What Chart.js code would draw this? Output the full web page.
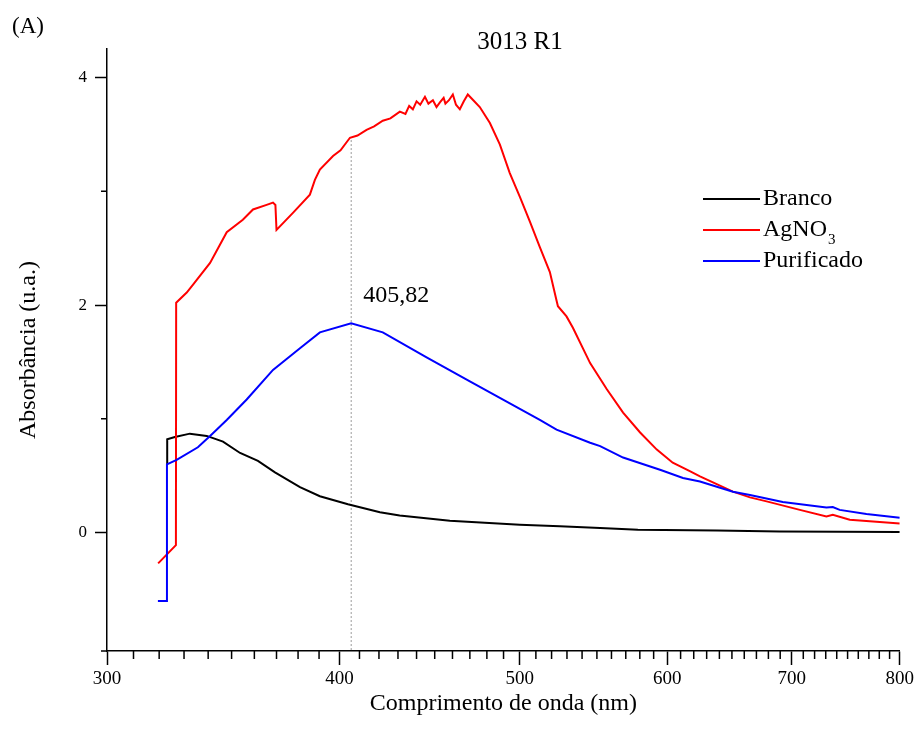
<!DOCTYPE html>
<html>
<head>
<meta charset="utf-8">
<script src="https://cdn.jsdelivr.net/npm/chart.js@4.4.1/dist/chart.umd.min.js"></script>
<style>
  body { margin: 0; background: #fff; }
  canvas { display: block; }
</style>
</head>
<body>
<canvas id="absChart" width="917" height="731"></canvas>
<script>
// wavelength (nm) / absorbance
const brancoNm  = [323.2, 323.2, 326.3, 332.4, 339.4, 346.3, 353.7, 361.6, 369.3, 380.9, 390.4, 404.2, 420.5, 430.9, 458.5, 500, 525.3, 552.2, 578.6, 638, 689.6, 800];
const brancoAbs = [0.60, 0.82, 0.84, 0.87, 0.85, 0.80, 0.70, 0.63, 0.53, 0.40, 0.32, 0.25, 0.18, 0.15, 0.105, 0.07, 0.057, 0.041, 0.026, 0.018, 0.011, 0.006];

const agNm  = [319.6, 326.7, 326.8, 331.1, 333.7, 340.8, 347.9, 354.9, 359.4, 365.5, 368.4, 369.5, 370.0, 377.6, 385.6, 388.0, 390.4, 396.8, 400.5, 405.2, 409.0, 413.6, 417.5, 422.0, 426.0, 431.0, 434.0, 436, 438.0, 440.0, 442.0, 444.6, 446.5, 449.0, 451.0, 452.9, 455.0, 456, 458.0, 460.2, 462.0, 464.2, 466.5, 468.8, 472.0, 475.8, 481.8, 487.8, 493.8, 500.0, 506.3, 512.5, 518.9, 523.2, 524.1, 529.7, 533.9, 545.4, 556.8, 568.1, 580.2, 592.3, 604.1, 617.0, 624.8, 650.8, 664.7, 678.5, 707, 730.6, 736.4, 752.0, 800];
const agAbs = [-0.27, -0.11, 2.02, 2.11, 2.18, 2.37, 2.64, 2.75, 2.84, 2.88, 2.90, 2.88, 2.66, 2.81, 2.97, 3.10, 3.19, 3.31, 3.36, 3.47, 3.49, 3.54, 3.57, 3.62, 3.64, 3.70, 3.68, 3.75, 3.72, 3.79, 3.76, 3.83, 3.77, 3.80, 3.74, 3.78, 3.82, 3.77, 3.80, 3.85, 3.76, 3.72, 3.79, 3.85, 3.80, 3.74, 3.60, 3.41, 3.16, 2.95, 2.73, 2.51, 2.29, 2.04, 1.99, 1.90, 1.80, 1.49, 1.26, 1.055, 0.88, 0.73, 0.615, 0.54, 0.495, 0.36, 0.31, 0.275, 0.20, 0.143, 0.158, 0.114, 0.08];

const purNm  = [319.5, 323.0, 323.1, 327.0, 335.7, 340.8, 347.9, 356.6, 368.4, 380.9, 390.4, 405.8, 422.0, 445.5, 470.0, 512.5, 523.2, 545.4, 552.2, 568.1, 595.2, 611.8, 624.8, 650.8, 664.7, 692.2, 730.6, 736.4, 742.7, 767.7, 800];
const purAbs = [-0.60, -0.60, 0.60, 0.64, 0.75, 0.85, 0.99, 1.17, 1.43, 1.62, 1.76, 1.84, 1.76, 1.54, 1.33, 0.99, 0.905, 0.79, 0.76, 0.66, 0.55, 0.48, 0.45, 0.36, 0.33, 0.27, 0.22, 0.225, 0.20, 0.164, 0.13];

const xTicks = [300, 400, 500, 600, 700, 800];
const yTicks = [0, 2, 4];
const yMinor = [1, 3];
const peakNm = 405.82;
const peakLabel = '405,82';

const serif = '"Liberation Serif", "DejaVu Serif", serif';

function toPoints(xs, ys) {
    return xs.map((x, i) => ({ x: x, y: ys[i] }));
}

const extras = {
    id: 'extras',
    beforeDatasetsDraw(chart) {
        const { ctx, scales: { x, y } } = chart;
        // dotted marker at the plasmon peak
        const px = x.getPixelForValue(peakNm);
        ctx.save();
        ctx.strokeStyle = '#9a9a9a';
        ctx.lineWidth = 1;
        ctx.setLineDash([2, 2]);
        ctx.beginPath();
        ctx.moveTo(px, y.getPixelForValue(3.45));
        ctx.lineTo(px, y.bottom);
        ctx.stroke();
        ctx.restore();
    },
    afterDraw(chart) {
        const { ctx, scales: { x, y } } = chart;
        ctx.save();
        ctx.strokeStyle = '#000';
        ctx.lineWidth = 1.5;
        // minor ticks
        ctx.beginPath();
        for (let v = 310; v < 800; v += 10) {
            if (v % 100 === 0) continue;
            const px = x.getPixelForValue(v);
            ctx.moveTo(px, y.bottom);
            ctx.lineTo(px, y.bottom + 8);
        }
        yMinor.forEach(v => {
            const py = y.getPixelForValue(v);
            ctx.moveTo(x.left, py);
            ctx.lineTo(x.left - 6, py);
        });
        // small stub of the x axis left of the y axis
        ctx.moveTo(x.left - 6, y.bottom);
        ctx.lineTo(x.left, y.bottom);
        ctx.stroke();

        ctx.fillStyle = '#000';
        ctx.textBaseline = 'middle';
        ctx.font = '23px ' + serif;
        ctx.textAlign = 'left';
        ctx.fillText('(A)', 12, 27);

        ctx.font = '25px ' + serif;
        ctx.textAlign = 'center';
        ctx.fillText('3013 R1', 520, 42);

        ctx.font = '24px ' + serif;
        ctx.textAlign = 'left';
        ctx.fillText(peakLabel, x.getPixelForValue(peakNm) + 12, y.getPixelForValue(2.08));

        // legend
        const items = [
            { label: 'Branco', color: '#000000' },
            { label: 'AgNO', sub: '3', color: '#ff0000' },
            { label: 'Purificado', color: '#0000ff' }
        ];
        const lx = 703, lw = 57, ly0 = 199, dy = 31;
        items.forEach((it, i) => {
            const ly = ly0 + i * dy;
            ctx.strokeStyle = it.color;
            ctx.lineWidth = 2;
            ctx.beginPath();
            ctx.moveTo(lx, ly);
            ctx.lineTo(lx + lw, ly);
            ctx.stroke();
            ctx.font = '24px ' + serif;
            ctx.fillStyle = '#000';
            ctx.fillText(it.label, lx + lw + 3, ly);
            if (it.sub) {
                const w = ctx.measureText(it.label).width;
                ctx.font = '15px ' + serif;
                ctx.fillText(it.sub, lx + lw + 3 + w + 1, ly + 10);
            }
        });
        ctx.restore();
    }
};

new Chart(document.getElementById('absChart'), {
    type: 'line',
    data: {
        datasets: [
            { label: 'Branco', data: toPoints(brancoNm, brancoAbs), borderColor: '#000000', order: 3 },
            { label: 'AgNO3', data: toPoints(agNm, agAbs), borderColor: '#ff0000', order: 2 },
            { label: 'Purificado', data: toPoints(purNm, purAbs), borderColor: '#0000ff', order: 1 }
        ]
    },
    options: {
        responsive: false,
        animation: false,
        layout: { padding: { top: 49, right: 17, left: 0, bottom: 0 } },
        elements: {
            line: { borderWidth: 2, tension: 0, fill: false },
            point: { radius: 0 }
        },
        plugins: {
            legend: { display: false },
            tooltip: { enabled: false }
        },
        scales: {
            x: {
                type: 'logarithmic',
                min: 300,
                max: 800,
                afterBuildTicks: s => { s.ticks = xTicks.map(v => ({ value: v })); },
                afterFit: s => { s.height = 80; },
                ticks: {
                    color: '#000',
                    font: { family: serif, size: 19 },
                    padding: 3,
                    maxRotation: 0,
                    autoSkip: false,
                    callback: v => String(v)
                },
                grid: { drawOnChartArea: false, tickLength: 14, tickColor: '#000', tickWidth: 1.5 },
                border: { color: '#000', width: 1.5 },
                title: {
                    display: true,
                    text: 'Comprimento de onda (nm)',
                    color: '#000',
                    font: { family: serif, size: 24 },
                    padding: { top: 0, bottom: 13 }
                }
            },
            y: {
                type: 'linear',
                min: -1.04,
                max: 4.25,
                afterBuildTicks: s => { s.ticks = yTicks.map(v => ({ value: v })); },
                afterFit: s => { s.width = 107; },
                ticks: {
                    color: '#000',
                    font: { family: serif, size: 17 },
                    padding: 8,
                    callback: v => String(v)
                },
                grid: { drawOnChartArea: false, tickLength: 12, tickColor: '#000', tickWidth: 1.5 },
                border: { color: '#000', width: 1.5 },
                title: {
                    display: true,
                    text: 'Absorbância (u.a.)',
                    color: '#000',
                    font: { family: serif, size: 24 },
                    padding: { top: 14, bottom: 0 }
                }
            }
        }
    },
    plugins: [extras]
});
</script>
</body>
</html>
